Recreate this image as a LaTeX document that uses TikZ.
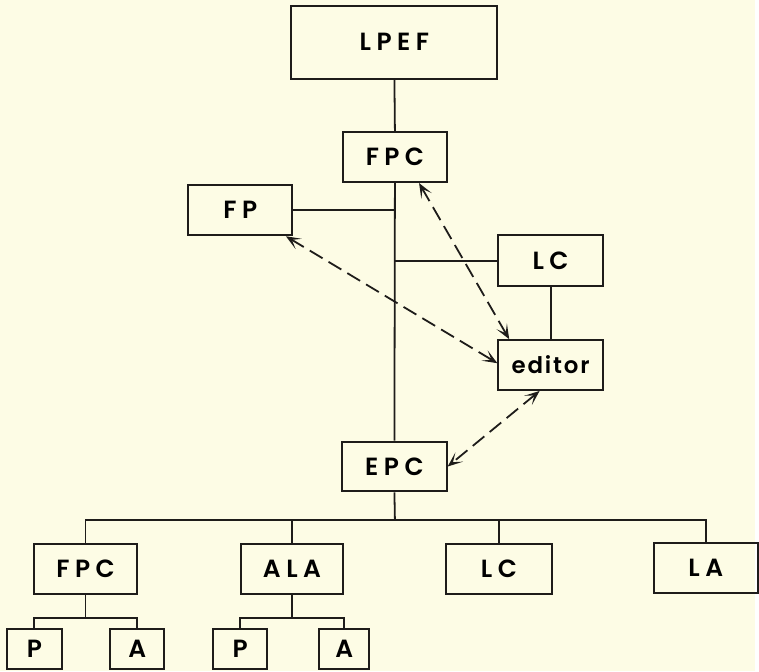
\documentclass[tikz,border=0pt]{standalone}
\usepackage{fontspec}
\setmainfont{Poppins}[UprightFont=* SemiBold, LetterSpace=22]
\usetikzlibrary{arrows.meta}

\definecolor{paper}{RGB}{253,252,229}
\definecolor{ink}{RGB}{30,28,26}

\tikzset{
  box/.style={draw=ink, line width=2pt, minimum width=105pt, minimum height=51pt,
    inner sep=0pt, font=\fontsize{25}{28}\selectfont},
  smallbox/.style={box, minimum width=54pt, minimum height=40pt},
  wire/.style={draw=ink, line width=1.8pt},
  link/.style={wire, dash pattern=on 15pt off 7pt,
    {Stealth[length=15pt,width=12pt,inset=8pt]}-{Stealth[length=15pt,width=12pt,inset=8pt]}},
}

\begin{document}
\begin{tikzpicture}[x=1pt,y=-1pt]

\fill[paper] (0,0) rectangle (759,675);

% upper part
\node[box, minimum width=207pt, minimum height=73pt] (lpef) at (396.5,42.5) {LPEF};
\node[box, minimum width=104pt, minimum height=50pt] (fpc1) at (397,158) {FPC};
\node[box] (fp) at (241.5,211) {FP};
\node[box] (lc1) at (553.5,262) {LC};
\node[box, minimum height=50pt, font=\fontsize{23}{26}\selectfont\addfontfeature{LetterSpace=8}] (editor) at (553.5,367) {editor};
\node[box, minimum height=50pt] (epc) at (396.5,469) {EPC};

% lower row
\node[box, minimum width=104pt] (fpc2) at (86,572) {FPC};
\node[box, minimum width=103pt] (ala) at (293.5,572) {ALA};
\node[box, minimum width=107pt] (lc2) at (501.5,572) {LC};
\node[box] (la) at (709.5,571) {LA};

\node[smallbox, minimum width=55pt] (p1) at (34.5,652.5) {P};
\node[smallbox] (a1) at (138,652.5) {A};
\node[smallbox] (p2) at (241.5,652.5) {P};
\node[smallbox, minimum width=50pt] (a2) at (346,652.5) {A};

% trunk
\coordinate (jfp) at (397,211);
\coordinate (jlc) at (397,262);
\draw[wire] (lpef.south) -- (fpc1.north);
\draw[wire] (fpc1.south) -- (epc.north);
\draw[wire] (fp.east) -- (jfp);
\draw[wire] (lc1.west) -- (jlc);
\draw[wire] (lc1.south) -- (editor.north);

% bus below EPC
\coordinate (bus) at (397,523);
\draw[wire] (epc.south) -- (bus);
\draw[wire] (fpc2.north) |- (bus) -| (la.north);
\draw[wire] (bus) -| (ala.north);
\draw[wire] (bus) -| (lc2.north);

\coordinate (sub1) at (86,621);
\coordinate (sub2) at (293.5,621);
\draw[wire] (fpc2.south) -- (sub1);
\draw[wire] (p1.north) |- (sub1) -| (a1.north);
\draw[wire] (ala.south) -- (sub2);
\draw[wire] (p2.north) |- (sub2) -| (a2.north);

% dashed links to the editor
\draw[link] (fpc1.-47) -- (editor.148);
\draw[link] (fp.-30) -- (editor.178);
\draw[link] (editor.-113) -- (epc.east);

\end{tikzpicture}
\end{document}
